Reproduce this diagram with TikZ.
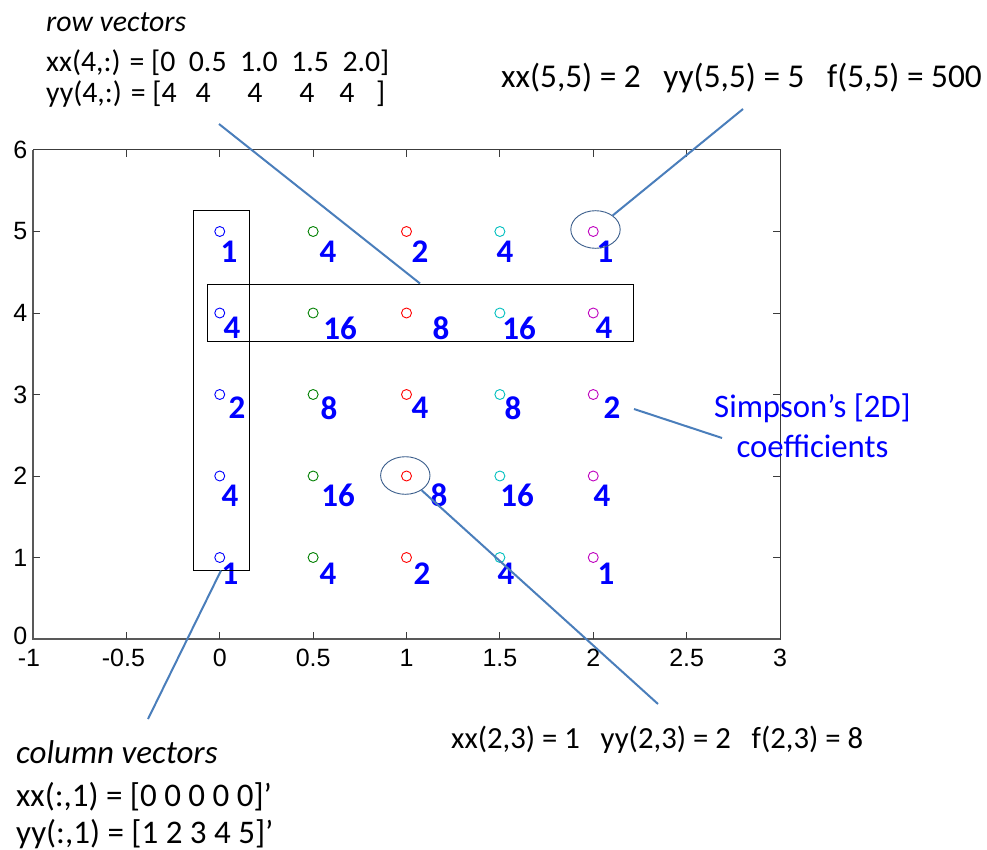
\documentclass[tikz,border=0pt]{standalone}
\usepackage{fontspec}
\usepackage{graphicx}
\usetikzlibrary{shapes.geometric}
\setmainfont{Carlito}
\newfontfamily\axfont{Liberation Sans}
\definecolor{conn}{HTML}{4A7EBB}
\definecolor{ellc}{HTML}{3B5E8C}
\definecolor{axc}{HTML}{3C3C3C}
\definecolor{mgreen}{rgb}{0,0.5,0}
\definecolor{mcyan}{rgb}{0,0.75,0.75}
\definecolor{mmag}{rgb}{0.75,0,0.75}
\begin{document}
\begin{tikzpicture}[x=1pt,y=-1pt,
  coef/.style={font=\fontsize{33}{33}\selectfont\bfseries, text=blue, inner sep=0pt},
  txt/.style={inner sep=0pt, anchor=base west},
  conline/.style={draw=conn, line width=2pt},
  hilite/.style={ellipse, draw=ellc, line width=0.9pt, minimum width=49.4pt, minimum height=37.6pt, inner sep=0pt},
  vecbox/.style={draw=black, line width=1pt, inner sep=0pt},
  axlab/.style={font=\axfont\fontsize{25}{25}\selectfont, inner sep=0pt, text=black},
  tickst/.style={draw=axc, line width=1pt},
  mk/.style={circle, line width=0.9pt, minimum size=10pt, inner sep=0pt}
]
\useasboundingbox (0,0) rectangle (987,850);
\fill[white] (0,0) rectangle (987,850);

% ---------- axes ----------
\begin{scope}[shift={(219.75,639)}, x=186.75pt, y=81.5pt]
  \draw[axc, line width=1pt] (-1,0) rectangle (3,6);
  \draw[axc!85, line width=1.8pt] (-1,6) -- (-1,0) -- (3,0);
  \foreach \v in {-0.5,0,0.5,1,1.5,2,2.5} {
    \draw[tickst] (\v,0) -- ++(0,7pt);
    \draw[tickst] (\v,6) -- ++(0,-7pt);
  }
  \foreach \w in {1,...,5} {
    \draw[tickst] (-1,\w) -- ++(7pt,0);
    \draw[tickst] (3,\w) -- ++(-7pt,0);
  }
  \foreach \w/\s in {0/3,1/0,2/0,3/0,4/0,5/0,6/0}
    \node[axlab, anchor=east] (yl\w) at ([xshift=-5.5pt, yshift=\s pt]-1,\w) {\w};
  \foreach \v/\n/\s in {-1/a/-4,-0.5/b/-3,0/c/0,0.5/d/0,1/e/0,1.5/f/0,2/g/0,2.5/h/0,3/i/0}
    \node[axlab] (xl\n) at ([xshift=\s pt, yshift=-19pt]\v,0) {\v};
  % markers
  \foreach \i/\v/\c in {1/0/blue,2/0.5/mgreen,3/1/red,4/1.5/mcyan,5/2/mmag}
    \foreach \w in {1,...,5}
      \node[mk, draw=\c] (m\i\w) at (\v,\w) {};
\end{scope}

% ---------- Simpson coefficients ----------
\foreach \n/\x/\y/\t in {
  a1/229/251.5/1, a2/328/251.5/4, a3/420/251.5/2, a4/505/251.5/4, a5/605/251.5/1,
  b1/232/328/4, b2/340/328/16, b3/441/328/8, b4/519/328/16, b5/604/328/4,
  c1/237/408/2, c2/329/408/8, c3/420/408/4, c4/513/408/8, c5/612/408/2,
  d1/230/495.5/4, d2/338/495.5/16, d3/439/495.5/8, d4/517/495.5/16, d5/602/495.5/4,
  e1/230/573.5/1, e2/328/573.5/4, e3/422/573.5/2, e4/506/573.5/4, e5/606/573.5/1}
  \node[coef] (k\n) at (\x,\y) {\t};

% ---------- boxes and ellipses ----------
\node[vecbox, minimum width=56pt, minimum height=359pt] (colbox) at (221,390.5) {};
\node[vecbox, minimum width=426pt, minimum height=57pt] (rowbox) at (420,312.5) {};
\node[hilite] (e55) at (595.5,229.5) {};
\node[hilite] (e23) at (405.3,475.5) {};

% ---------- texts ----------
\node[txt, font=\fontsize{29.8}{29.8}\selectfont\itshape] (rv1) at (46,32) {row vectors};
\node[txt, font=\fontsize{29.8}{29.8}\selectfont] (rv2) at (46,71.5) {xx(4,:) = [0~~0.5~~1.0~~1.5~~2.0]};
\node[txt, font=\fontsize{29.8}{29.8}\selectfont] (rv3) at (46,103) {yy(4,:) = [4\hspace{18.8pt}4\hspace{36.8pt}4\hspace{36.8pt}4\hspace{24.8pt}4\hspace{21.8pt}]};

\node[txt, font=\fontsize{33.3}{33.3}\selectfont] (t55) at (501,88) {xx(5,5) = 2~~~yy(5,5) = 5~~~f(5,5) = 500};

\node[txt, font=\fontsize{30.7}{30.7}\selectfont] (t23) at (451,748) {xx(2,3) = 1~~~yy(2,3) = 2~~~f(2,3) = 8};

\node[txt, font=\fontsize{33}{33}\selectfont\itshape] (cv1) at (16,763) {column vectors};
\node[txt, font=\fontsize{33}{33}\selectfont] (cv2) at (16,806) {xx(:,1) = [0 0 0 0 0]’};
\node[txt, font=\fontsize{33}{33}\selectfont] (cv3) at (16,843) {yy(:,1) = [1 2 3 4 5]’};

\node[inner sep=0pt, anchor=base, align=center, text=blue, font=\fontsize{32.8}{40}\selectfont] (simp) at (812.5,457) {Simpson’s [2D]\\coefficients};

% ---------- connectors ----------
\coordinate (rvend) at (219,124);
\coordinate (t55end) at (743,109);
\coordinate (cvend) at (148,719);
\coordinate (t23end) at (658,704);
\coordinate (s2start) at (634,409);
\coordinate (simpend) at (722,438);

\draw[conline] (rvend) -- (rowbox.north);
\draw[conline] (t55end) -- (e55);
\draw[conline] (colbox.south) -- (cvend);
\draw[conline] (e23) -- (t23end);
\draw[conline] (s2start) -- (simpend);
\end{tikzpicture}
\end{document}
